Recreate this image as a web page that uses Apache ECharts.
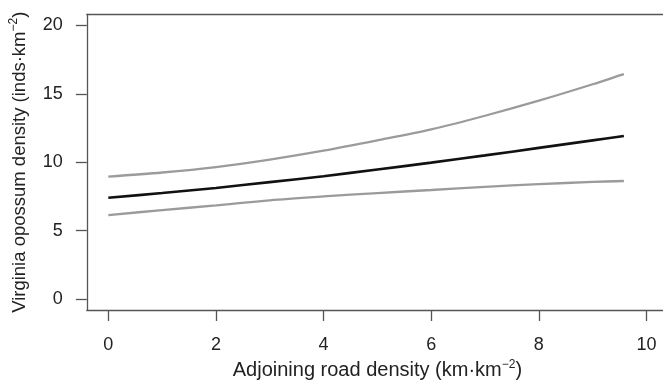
<!DOCTYPE html>
<html>
<head>
<meta charset="utf-8">
<script src="https://cdn.jsdelivr.net/npm/echarts@6/dist/echarts.min.js"></script>
<style>
  html, body { margin: 0; padding: 0; background: #fff; }
  #chart { width: 663px; height: 381px; }
</style>
</head>
<body>
<div id="chart"></div>
<script>
// road density (km/km2) where the curves were read
const roadDensity = [0, 1, 2, 3, 4, 5, 6, 7, 8, 9, 9.58]
// fitted opossum density and its confidence band
const fitted = [7.4, 7.75, 8.12, 8.55, 8.98, 9.47, 9.97, 10.5, 11.05, 11.6, 11.92]
const upperCI = [8.95, 9.25, 9.65, 10.2, 10.85, 11.6, 12.4, 13.4, 14.5, 15.7, 16.45]
const lowerCI = [6.14, 6.5, 6.85, 7.22, 7.5, 7.75, 7.97, 8.2, 8.4, 8.56, 8.63]

const xTicks = [0, 2, 4, 6, 8, 10]
const yTicks = [0, 5, 10, 15, 20]

const pairs = ys => roadDensity.map((x, i) => [x, ys[i]])

const chart = echarts.init(document.getElementById('chart'))

const lineSeries = (data, color, width) => ({
  type: 'line',
  data: pairs(data),
  smooth: 0.3,
  showSymbol: false,
  silent: true,
  lineStyle: { color: color, width: width }
})

const frame = { show: true, onZero: false, lineStyle: { color: '#555', width: 1.3 } }
const tick = { show: true, inside: false, length: 11, lineStyle: { color: '#555', width: 1.3 } }

const axisTitle = size => ({
  rich: {
    t: { fontSize: size, color: '#222', lineHeight: 24 },
    s: { fontSize: 12, color: '#222', verticalAlign: 'top', lineHeight: 24 }
  }
})

// the frame runs past the right edge of the picture
chart.setOption({
  animation: false,
  textStyle: { fontFamily: 'Liberation Sans, Arial, sans-serif' },
  grid: {
    left: 86.8,
    top: 14.5,
    width: 581.2,
    height: 295.5,
    outerBoundsMode: 'none',
    containLabel: false
  },
  xAxis: [{
    type: 'value',
    min: -0.4,
    max: 10.4,
    axisLine: frame,
    axisTick: Object.assign({ customValues: xTicks }, tick),
    axisLabel: {
      customValues: xTicks,
      margin: 26,
      fontSize: 18,
      color: '#222'
    },
    splitLine: { show: false },
    name: '{t|Adjoining road density (km·km}{s|−2}{t|)}',
    nameLocation: 'middle',
    nameGap: 46,
    nameTextStyle: axisTitle(20)
  }, {
    type: 'value',
    position: 'top',
    min: -0.4,
    max: 10.4,
    axisLine: frame,
    axisTick: { show: false },
    axisLabel: { show: false },
    splitLine: { show: false }
  }],
  yAxis: {
    type: 'value',
    min: -0.8,
    max: 20.8,
    axisLine: frame,
    axisTick: Object.assign({ customValues: yTicks }, tick),
    axisLabel: {
      customValues: yTicks,
      margin: 24,
      fontSize: 18,
      color: '#222'
    },
    splitLine: { show: false },
    name: '{t|Virginia opossum density (inds·km}{s|−2}{t|)}',
    nameLocation: 'middle',
    nameGap: 55,
    nameTextStyle: axisTitle(18.5)
  },
  series: [
    lineSeries(upperCI, '#9b9b9b', 2.3),
    lineSeries(lowerCI, '#9b9b9b', 2.3),
    lineSeries(fitted, '#111', 2.6)
  ]
})
</script>
</body>
</html>
